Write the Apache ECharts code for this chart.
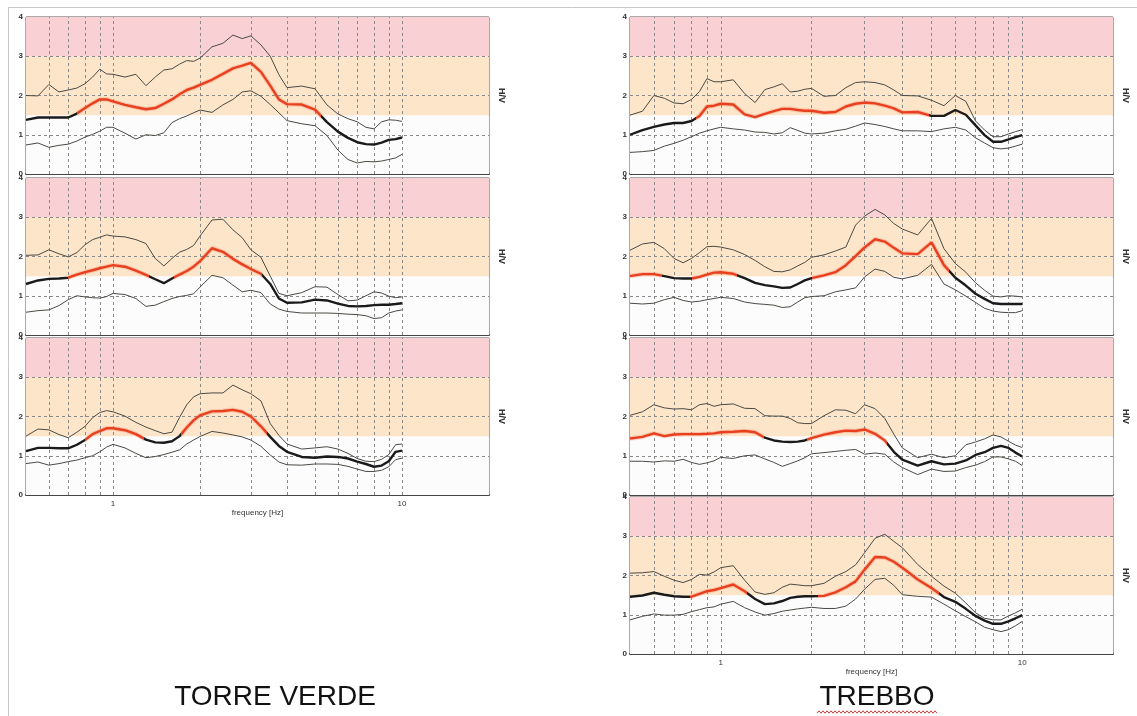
<!DOCTYPE html>
<html><head><meta charset="utf-8">
<script src="https://cdn.jsdelivr.net/npm/echarts@6/dist/echarts.min.js"></script>
<style>html,body{margin:0;padding:0;background:#fff}#c{width:1137px;height:716px}</style>
</head><body><div id="c"></div>
<script>
// ---------- DATA ----------
const FREQ = [0.5,0.55,0.6,0.65,0.7,0.75,0.8,0.85,0.9,0.95,1,1.1,1.2,1.3,1.4,1.5,1.6,1.7,1.8,1.9,2,2.2,2.4,2.6,2.8,3,3.25,3.5,3.75,4,4.5,5,5.5,6,6.5,7,7.5,8,8.5,9,9.5,10];
const X_TICK_LABELS = [1, 10];
const V_GRID = [0.6,0.7,0.8,0.9,1,2,3,4,5,6,7,8,9,10];
const H_GRID = [1, 2, 3];
const BANDS = [[0,1.5],[1.5,3],[3,4]];
const TITLES = ['TORRE VERDE', 'TREBBO'];
const X_NAME = 'frequency [Hz]';
const Y_NAME = 'H/V';

// TORRE VERDE
const TV1_UPPER = [2.0,1.99,2.28,2.09,2.14,2.19,2.3,2.47,2.67,2.55,2.54,2.47,2.54,2.25,2.47,2.65,2.68,2.8,2.89,2.87,2.95,3.24,3.33,3.54,3.45,3.52,3.29,3.0,2.53,2.2,2.24,2.17,1.76,1.53,1.41,1.33,1.19,1.15,1.33,1.38,1.37,1.34];
const TV1_MEAN  = [1.38,1.44,1.44,1.44,1.44,1.54,1.68,1.8,1.9,1.9,1.85,1.76,1.7,1.65,1.68,1.79,1.9,2.03,2.14,2.2,2.27,2.4,2.55,2.69,2.76,2.83,2.6,2.25,1.9,1.78,1.77,1.64,1.32,1.08,0.92,0.81,0.76,0.75,0.8,0.87,0.89,0.93];
const TV1_LOWER = [0.74,0.79,0.68,0.73,0.76,0.84,0.94,1.01,1.09,1.19,1.19,1.04,0.89,1.0,0.98,1.05,1.31,1.41,1.48,1.56,1.63,1.57,1.76,1.9,2.09,2.12,1.98,1.77,1.56,1.36,1.28,1.23,0.98,0.61,0.37,0.28,0.32,0.31,0.33,0.37,0.41,0.5];
const TV1_RED = [[0.75,5.25]];

const TV2_UPPER = [2.03,2.04,2.17,2.07,1.99,2.1,2.3,2.43,2.49,2.55,2.52,2.5,2.43,2.33,1.95,1.76,1.95,2.11,2.18,2.28,2.52,2.93,2.95,2.68,2.48,2.17,1.98,1.5,1.06,1.0,1.08,1.23,1.22,1.03,0.87,0.89,1.0,1.1,1.07,0.99,0.95,0.97];
const TV2_MEAN  = [1.3,1.39,1.43,1.44,1.46,1.54,1.6,1.65,1.7,1.74,1.78,1.74,1.64,1.53,1.42,1.32,1.44,1.54,1.63,1.74,1.88,2.21,2.12,1.94,1.8,1.68,1.56,1.3,0.93,0.82,0.83,0.9,0.88,0.8,0.74,0.73,0.74,0.76,0.77,0.77,0.79,0.81];
const TV2_LOWER = [0.58,0.62,0.64,0.75,0.9,1.0,0.97,0.95,0.94,0.98,1.06,1.03,0.93,0.73,0.76,0.85,0.93,0.98,1.01,1.05,1.22,1.52,1.46,1.27,1.1,1.14,1.08,0.79,0.66,0.6,0.56,0.56,0.56,0.55,0.53,0.52,0.49,0.42,0.44,0.56,0.61,0.64];
const TV2_RED = [[0.7,1.33],[1.63,3.28]];

const TV3_UPPER = [1.5,1.68,1.66,1.54,1.46,1.6,1.75,1.97,2.1,2.15,2.12,2.01,1.85,1.73,1.64,1.56,1.6,1.98,2.3,2.5,2.58,2.6,2.6,2.8,2.68,2.58,2.4,1.82,1.52,1.3,1.17,1.2,1.23,1.17,1.06,0.93,0.86,0.85,0.91,1.03,1.28,1.3];
const TV3_MEAN  = [1.12,1.2,1.2,1.19,1.19,1.28,1.4,1.55,1.63,1.7,1.7,1.65,1.55,1.41,1.34,1.33,1.37,1.5,1.72,1.9,2.03,2.13,2.14,2.17,2.12,2.0,1.75,1.48,1.25,1.1,0.97,0.95,0.98,0.97,0.93,0.85,0.79,0.72,0.75,0.86,1.1,1.13];
const TV3_LOWER = [0.8,0.84,0.76,0.8,0.85,0.89,0.95,1.0,1.1,1.22,1.29,1.2,1.06,0.95,0.98,1.03,1.09,1.15,1.3,1.4,1.49,1.62,1.58,1.53,1.48,1.4,1.24,1.02,0.84,0.77,0.76,0.79,0.79,0.78,0.73,0.66,0.6,0.6,0.63,0.72,0.9,0.94];
const TV3_RED = [[0.8,1.28],[1.72,3.42]];

// TREBBO
const TR1_UPPER = [1.5,1.6,2.0,1.93,1.81,1.79,1.9,2.1,2.43,2.35,2.35,2.4,2.05,1.82,2.15,2.22,2.3,2.09,2.11,2.16,2.18,1.98,2.0,2.2,2.33,2.35,2.33,2.27,2.14,2.0,1.99,1.88,1.74,2.0,1.85,1.35,1.12,0.95,0.95,1.02,1.08,1.13];
const TR1_MEAN  = [1.0,1.12,1.2,1.26,1.3,1.3,1.35,1.48,1.72,1.74,1.79,1.77,1.52,1.45,1.53,1.6,1.66,1.66,1.63,1.61,1.61,1.56,1.58,1.72,1.79,1.82,1.8,1.74,1.67,1.57,1.58,1.48,1.48,1.63,1.51,1.24,0.99,0.82,0.82,0.88,0.94,0.99];
const TR1_LOWER = [0.55,0.57,0.6,0.71,0.78,0.86,0.95,1.04,1.1,1.15,1.19,1.15,1.12,1.07,1.06,1.02,1.05,1.18,1.11,1.04,1.02,1.04,1.1,1.14,1.22,1.3,1.26,1.21,1.15,1.1,1.1,1.08,1.15,1.19,1.12,0.92,0.79,0.67,0.64,0.66,0.71,0.76];
const TR1_RED = [[0.83,4.9]];

const TR2_UPPER = [2.16,2.32,2.36,2.2,1.95,1.84,1.95,2.1,2.25,2.26,2.24,2.17,2.05,1.9,1.74,1.62,1.61,1.66,1.76,1.85,1.98,2.04,2.14,2.24,2.8,3.03,3.2,3.06,2.84,2.7,2.55,2.97,2.2,1.82,1.6,1.33,1.14,0.99,0.97,1.0,0.99,0.97];
const TR2_MEAN  = [1.5,1.55,1.55,1.5,1.45,1.44,1.44,1.48,1.54,1.59,1.6,1.56,1.45,1.33,1.27,1.24,1.2,1.21,1.3,1.39,1.45,1.52,1.6,1.78,2.01,2.23,2.44,2.38,2.22,2.08,2.06,2.36,1.78,1.46,1.26,1.05,0.92,0.81,0.79,0.79,0.79,0.79];
const TR2_LOWER = [0.81,0.79,0.81,0.9,0.96,0.88,0.84,0.86,0.9,0.93,0.96,0.93,0.84,0.8,0.78,0.76,0.7,0.72,0.84,0.95,0.98,1.0,1.1,1.15,1.2,1.48,1.68,1.62,1.47,1.43,1.52,1.8,1.3,1.15,0.99,0.83,0.68,0.61,0.58,0.57,0.57,0.62];
const TR2_RED = [[0.5,0.64],[0.8,1.13],[2.0,5.7]];

const TR3_UPPER = [2.03,2.12,2.3,2.22,2.19,2.2,2.17,2.3,2.33,2.26,2.3,2.32,2.21,2.2,2.02,2.01,2.01,1.95,1.84,1.82,1.82,2.02,2.17,2.16,2.07,2.3,2.2,1.95,1.55,1.2,0.95,1.04,0.95,1.0,1.28,1.35,1.43,1.53,1.48,1.37,1.27,1.21];
const TR3_MEAN  = [1.44,1.48,1.57,1.5,1.54,1.55,1.55,1.55,1.56,1.57,1.6,1.61,1.63,1.6,1.46,1.39,1.36,1.35,1.36,1.39,1.45,1.54,1.6,1.64,1.63,1.67,1.56,1.39,1.1,0.9,0.75,0.86,0.78,0.8,0.88,1.02,1.09,1.2,1.25,1.2,1.08,0.98];
const TR3_LOWER = [0.86,0.86,0.84,0.87,0.86,0.91,0.83,0.78,0.82,0.87,0.96,0.93,1.0,1.02,0.92,0.83,0.73,0.8,0.87,0.95,1.05,1.08,1.11,1.14,1.16,1.04,1.07,1.04,0.84,0.7,0.52,0.66,0.6,0.61,0.7,0.76,0.85,0.97,0.97,0.92,0.86,0.75];
const TR3_RED = [[0.5,1.39],[1.93,3.56]];

const TR4_UPPER = [2.06,2.07,2.1,1.98,1.88,1.82,1.9,2.03,2.01,2.09,2.2,2.25,1.88,1.58,1.52,1.56,1.7,1.78,1.76,1.74,1.74,1.8,1.98,2.1,2.27,2.58,2.95,3.05,2.87,2.71,2.28,1.98,1.73,1.55,1.3,1.05,0.91,0.87,0.87,0.97,1.05,1.14];
const TR4_MEAN  = [1.46,1.49,1.56,1.51,1.47,1.46,1.46,1.53,1.6,1.63,1.68,1.77,1.6,1.4,1.27,1.29,1.35,1.43,1.46,1.47,1.47,1.48,1.57,1.7,1.85,2.15,2.47,2.46,2.35,2.2,1.9,1.68,1.45,1.33,1.15,0.97,0.85,0.77,0.77,0.83,0.91,0.99];
const TR4_LOWER = [0.87,0.96,1.02,0.99,0.99,1.01,1.08,1.13,1.18,1.2,1.27,1.34,1.18,1.07,0.99,1.03,1.09,1.12,1.15,1.17,1.19,1.16,1.16,1.22,1.4,1.65,1.9,1.93,1.75,1.51,1.47,1.45,1.27,1.1,0.95,0.82,0.68,0.62,0.57,0.62,0.72,0.83];
const TR4_RED = [[0.79,1.22],[2.1,5.3]];

const PANELS = [
  {col:0, row:0, upper:TV1_UPPER, mean:TV1_MEAN, lower:TV1_LOWER, red:TV1_RED},
  {col:0, row:1, upper:TV2_UPPER, mean:TV2_MEAN, lower:TV2_LOWER, red:TV2_RED},
  {col:0, row:2, upper:TV3_UPPER, mean:TV3_MEAN, lower:TV3_LOWER, red:TV3_RED},
  {col:1, row:0, upper:TR1_UPPER, mean:TR1_MEAN, lower:TR1_LOWER, red:TR1_RED},
  {col:1, row:1, upper:TR2_UPPER, mean:TR2_MEAN, lower:TR2_LOWER, red:TR2_RED},
  {col:1, row:2, upper:TR3_UPPER, mean:TR3_MEAN, lower:TR3_LOWER, red:TR3_RED},
  {col:1, row:3, upper:TR4_UPPER, mean:TR4_MEAN, lower:TR4_LOWER, red:TR4_RED}
];

// ---------- LAYOUT / STYLE ----------
const COL_LEFT = [26, 630];
const COL_WIDTH = [463, 483];
const COL_ROWS = [3, 4];
const ROW_TOP = [17, 178, 338, 497];
const PANEL_H = 157;
const BAND_COLORS = ['#fcfcfc', '#fde5c9', '#f9d1d5'];
const RED = '#e8401f', BLACK = '#1a1a1a', THIN = '#4a4a44';

const chart = echarts.init(document.getElementById('c'), null, {renderer: 'canvas'});
const grid = [], xAxis = [], yAxis = [], series = [], visualMap = [];
const isTick = v => X_TICK_LABELS.some(t => Math.abs(t - v) < 1e-6 * t);

PANELS.forEach((p, i) => {
  const bottom = p.row === COL_ROWS[p.col] - 1;
  grid.push({left: COL_LEFT[p.col], top: ROW_TOP[p.row], width: COL_WIDTH[p.col], height: PANEL_H,
    show: true, backgroundColor: '#fcfcfc', borderColor: '#555', borderWidth: 1});
  xAxis.push({type: 'log', logBase: 10, gridIndex: i, min: 0.5, max: 20,
    axisLine: {show: true, onZero: false, lineStyle: {color: '#444', width: 2}},
    axisTick: {show: false}, splitLine: {show: false},
    axisLabel: {show: bottom, fontSize: 8, color: '#333', margin: 5, fontFamily: 'Liberation Sans',
      formatter: v => isTick(v) ? String(Math.round(v)) : ''},
    name: bottom ? X_NAME : '', nameLocation: 'middle', nameGap: 14,
    nameTextStyle: {fontSize: 8, color: '#333', fontFamily: 'Liberation Sans'}});
  yAxis.push({type: 'value', gridIndex: i, min: 0, max: 4, interval: 1,
    axisLine: {show: false}, axisTick: {show: false}, splitLine: {show: false},
    axisLabel: {fontSize: 8, fontWeight: 'bold', color: '#333', margin: 3, fontFamily: 'Liberation Sans'}});
  yAxis.push({type: 'value', gridIndex: i, position: 'right', min: 0, max: 4, interval: 1,
    axisLine: {show: false}, axisTick: {show: false}, splitLine: {show: false}, axisLabel: {show: false},
    name: Y_NAME, nameLocation: 'middle', nameRotate: -90, nameGap: 8,
    nameTextStyle: {fontSize: 9, fontWeight: 'bold', color: '#333', fontFamily: 'Liberation Sans'}});
  const yi = 2 * i;
  series.push({type: 'line', xAxisIndex: i, yAxisIndex: yi, data: [], silent: true, z: 1,
    markArea: {silent: true, data: BANDS.map((b, k) => [{yAxis: b[0], itemStyle: {color: BAND_COLORS[k]}}, {yAxis: b[1]}])}});
  series.push({type: 'line', xAxisIndex: i, yAxisIndex: yi, data: [], silent: true, z: 2,
    markLine: {silent: true, symbol: 'none', label: {show: false}, animation: false,
      lineStyle: {type: [3, 3], color: '#8a8a8a', width: 1},
      data: V_GRID.map(v => ({xAxis: v})).concat(H_GRID.map(v => ({yAxis: v})))}});
  const toPts = arr => FREQ.map((f, k) => [f, arr[k]]);
  series.push({type: 'line', xAxisIndex: i, yAxisIndex: yi, data: toPts(p.upper), showSymbol: false, z: 10,
    lineStyle: {color: THIN, width: 1}});
  series.push({type: 'line', xAxisIndex: i, yAxisIndex: yi, data: toPts(p.lower), showSymbol: false, z: 10,
    lineStyle: {color: THIN, width: 1}});
  const glowIdx = series.length;
  series.push({type: 'line', xAxisIndex: i, yAxisIndex: yi, data: toPts(p.mean), showSymbol: false, z: 11,
    lineStyle: {width: 4.5}});
  const meanIdx = series.length;
  series.push({type: 'line', xAxisIndex: i, yAxisIndex: yi, data: toPts(p.mean), showSymbol: false, z: 12,
    lineStyle: {width: 2.4}});
  visualMap.push({type: 'piecewise', show: false, seriesIndex: glowIdx, dimension: 0,
    pieces: p.red.map(r => ({gte: r[0], lte: r[1], color: 'rgba(240,110,80,0.28)'})),
    outOfRange: {color: 'rgba(0,0,0,0)'}});
  visualMap.push({type: 'piecewise', show: false, seriesIndex: meanIdx, dimension: 0,
    pieces: p.red.map(r => ({gte: r[0], lte: r[1], color: RED})),
    outOfRange: {color: BLACK}});
});

const wave = [];
for (let x = 817; x <= 938; x += 2) wave.push([x, 712 + ((x - 817) / 2 % 2 ? -1.2 : 1.2)]);

chart.setOption({
  animation: false,
  backgroundColor: '#ffffff',
  grid, xAxis, yAxis, series, visualMap,
  graphic: [
    {type: 'line', shape: {x1: 8, y1: 7.5, x2: 1137, y2: 7.5}, style: {stroke: '#c8c8c8', lineWidth: 1}, silent: true},
    {type: 'line', shape: {x1: 8.5, y1: 7, x2: 8.5, y2: 716}, style: {stroke: '#c8c8c8', lineWidth: 1}, silent: true},
    {type: 'text', x: 275, y: 697, style: {text: TITLES[0], font: '28px "Liberation Sans"', fill: '#111', textAlign: 'center', textVerticalAlign: 'middle'}},
    {type: 'text', x: 877, y: 697, style: {text: TITLES[1], font: '28px "Liberation Sans"', fill: '#111', textAlign: 'center', textVerticalAlign: 'middle'}},
    {type: 'polyline', shape: {points: wave}, style: {stroke: '#d03a3a', lineWidth: 1, fill: null}, silent: true}
  ]
});
</script></body></html>
